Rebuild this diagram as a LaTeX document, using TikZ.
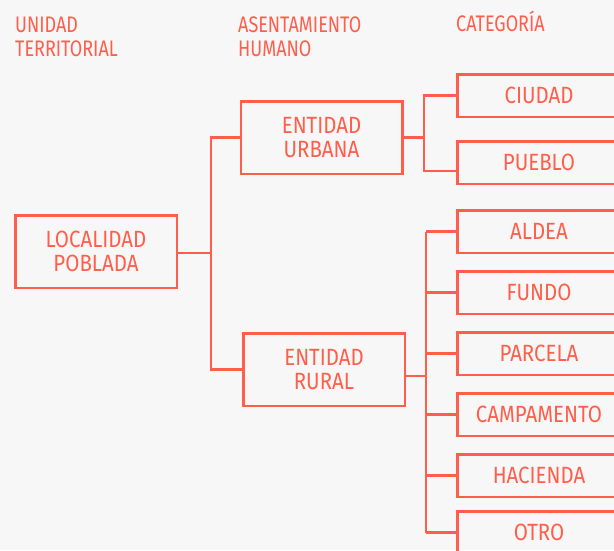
\documentclass[tikz,border=0pt]{standalone}
\usepackage{fontspec}
\setmainfont{Fira Sans}[FakeStretch=0.87]
\newfontfamily\headfont{Fira Sans}[FakeStretch=0.8]
\usetikzlibrary{positioning}
\definecolor{coral}{HTML}{FF5E4A}
\definecolor{paper}{HTML}{F7F7F7}

\begin{document}
\begin{tikzpicture}[x=1pt, y=-1pt, node distance=16pt,
	every node/.style={text=coral, font=\fontsize{23.5}{24.5}\selectfont},
	box/.style={draw=coral, line width=2.5pt, align=center, minimum width=161.5pt, minimum height=72.5pt, inner sep=0pt},
	cat/.style={draw=coral, line width=2.5pt, minimum width=163.5pt, minimum height=42.5pt, inner sep=0pt},
	head/.style={anchor=north west, align=left, inner sep=0pt, font=\headfont\fontsize{22.5}{24}\selectfont},
	link/.style={draw=coral, line width=2.5pt}]
		\useasboundingbox[fill=paper] (0,0) rectangle (614,550);

		% column titles
		\node[head] (h1) at (15,17) {UNIDAD\\TERRITORIAL};
		\node[head] (h2) at (238,17) {ASENTAMIENTO\\HUMANO};
		\node[head] (h3) at (456,10.5) {CATEGORÍA};

		\node[box] (loc) at (96,251.5) {LOCALIDAD\\POBLADA};
		\node[box] (urb) at (321.5,137.5) {ENTIDAD\\URBANA};
		\node[box] (rur) at (324,369.5) {ENTIDAD\\RURAL};

		\node[cat] (ciu) at (539,95.5) {CIUDAD};
		\node[cat, below=22pt of ciu] (pue) {PUEBLO};

		\node[cat] (ald) at (539,231.5) {ALDEA};
		\node[cat, below=of ald] (fun) {FUNDO};
		\node[cat, below=of fun] (par) {PARCELA};
		\node[cat, below=of par] (cam) {CAMPAMENTO};
		\node[cat, below=of cam] (hac) {HACIENDA};
		\node[cat, below=12pt of hac] (otr) {OTRO};

		\coordinate (j1) at (211,253);
		\coordinate (j2) at (424,137.5);
		\coordinate (j3) at (426,376);

		\path[link] (loc.east |- j1) -- (j1) |- (urb);
		\path[link] (j1) |- (rur);
		\path[link] (urb) -- (j2);
		\path[link] (ciu.west) -| (j2) |- ([yshift=-8.5pt]pue.west);
		\path[link] ([yshift=-6.5pt]rur.east) -- (j3);
		\path[link] (ald.west -| j3) -- (otr.west -| j3);
		\foreach \n in {ald, fun, par, cam, hac, otr}
			\path[link] (\n.west) -- (\n.west -| j3);
	\end{tikzpicture}
\end{document}
